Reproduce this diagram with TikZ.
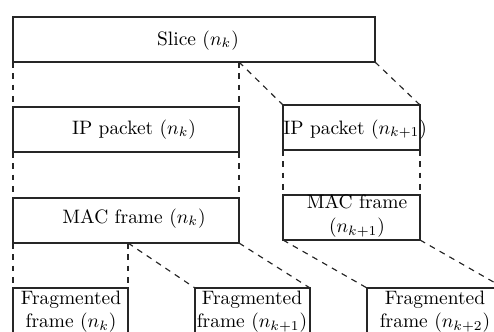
\documentclass[tikz,border=0pt]{standalone}
\usetikzlibrary{fit}
\begin{document}
\begin{tikzpicture}[x=0.515pt,y=-0.515pt,
  box/.style={draw=black!85, line width=0.6pt, inner sep=0pt, outer sep=0pt},
  conn/.style={draw=black!85, line width=0.6pt, dash pattern=on 3pt off 2.8pt},
  lbl/.style={inner sep=0pt, font=\fontsize{10}{12}\selectfont}]
\useasboundingbox (0,0) rectangle (494,331);
\clip (0,0) rectangle (494,331);
% boxes
\node[box, fit={(13,17) (375,62)}] (slice) {};
\node[box, fit={(13,107) (239,152)}] (ip1) {};
\node[box, fit={(283,105) (420,150)}] (ip2) {};
\node[box, fit={(13,198) (239,243)}] (mac1) {};
\node[box, fit={(283,195) (420,240)}] (mac2) {};
\node[box, fit={(13,288) (128,336)}] (f1) {};
\node[box, fit={(195,288) (310,336)}] (f2) {};
\node[box, fit={(367,288) (504,336)}] (f3) {};
% texts
\node[lbl, anchor=base] (tslice) at (198,45) {Slice ($n_k$)};
\node[lbl, anchor=base] (tip1) at (134,134) {IP packet ($n_k$)};
\node[lbl, anchor=base west] (tip2) at (283,134) {IP packet ($n_{k+1}$)};
\node[lbl, anchor=base] (tmac1) at (134,223) {MAC frame ($n_k$)};
\node[lbl, align=center] (tmac2) at (357,216) {MAC frame\\($n_{k+1}$)};
\node[lbl, align=center] (tf1) at (71,312) {Fragmented\\frame ($n_k$)};
\node[lbl, align=center] (tf2) at (252,312) {Fragmented\\frame ($n_{k+1}$)};
\node[lbl, align=center] (tf3) at (435,312) {Fragmented\\frame ($n_{k+2}$)};
% connectors
\draw[conn] (slice.south west) -- (ip1.north west);
\draw[conn] (ip1.north east |- slice.south) -- (ip1.north east);
\draw[conn] (ip1.north east |- slice.south) -- (ip2.north west);
\draw[conn] (slice.south east) -- (ip2.north east);
\draw[conn] (ip1.south west) -- (mac1.north west);
\draw[conn] (ip1.south east) -- (mac1.north east);
\draw[conn] (ip2.south west) -- (mac2.north west);
\draw[conn] (ip2.south east) -- (mac2.north east);
\draw[conn] (mac1.south west) -- (f1.north west);
\draw[conn] (f1.north east |- mac1.south) -- (f1.north east);
\draw[conn] (f1.north east |- mac1.south) -- (f2.north west);
\draw[conn] (mac1.south east) -- (f2.north east);
\draw[conn] (mac2.south west) -- (f3.north west);
\draw[conn] (mac2.south east) -- (f3.north east);
\end{tikzpicture}
\end{document}
